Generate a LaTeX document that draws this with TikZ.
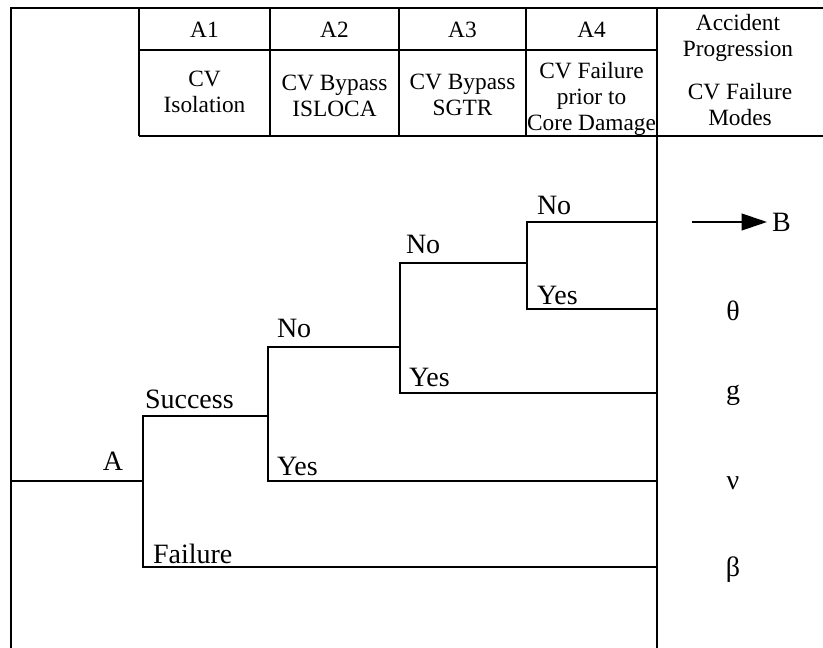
\documentclass[tikz,border=0pt]{standalone}
\usepackage{fontspec}
\setmainfont{Liberation Serif}
\usetikzlibrary{arrows.meta}

\begin{document}
\begin{tikzpicture}[x=0.75pt,y=-0.75pt,line width=1.5pt,
  head/.style={font=\fontsize{17.5}{19.5}\selectfont,align=center,inner sep=0pt},
  branch/.style={font=\fontsize{21}{24}\selectfont,anchor=base west,inner sep=0pt},
  mode/.style={font=\fontsize{21}{24}\selectfont,inner sep=0pt}]
\useasboundingbox (0,0) rectangle (823,648);

% table frame
\draw (11,648) -- (11,8) -- (823,8);
\draw (139,136) -- (823,136);
\draw (139,50) -- (657,50);
\foreach \x in {139,270,399,526} \draw (\x,8) -- (\x,136);
\draw (657,8) -- (657,648);

% headings
\node[head] (h1) at (204.5,30) {A1};
\node[head] (h2) at (334.5,30) {A2};
\node[head] (h3) at (462.5,30) {A3};
\node[head] (h4) at (591.5,30) {A4};
\node[head] (h5) at (738,38) {Accident\\Progression};
\node[head] (t1) at (204.5,92) {CV\\Isolation};
\node[head] (t2) at (334.5,96) {CV Bypass\\ISLOCA};
\node[head] (t3) at (462.5,95) {CV Bypass\\SGTR};
\node[head] (t4) at (591.5,99) {CV Failure\\prior to\\Core Damage};
\node[head] (t5) at (740,105) {CV Failure\\Modes};

% branch points
\coordinate (s0) at (11,481);
\coordinate (a1) at (143,481);
\coordinate (a1s) at (143,416);
\coordinate (a1f) at (143,567);
\coordinate (a2) at (268,416);
\coordinate (a2n) at (268,347);
\coordinate (a2y) at (268,481);
\coordinate (a3) at (400,347);
\coordinate (a3n) at (400,263);
\coordinate (a3y) at (400,393);
\coordinate (a4) at (527,263);
\coordinate (a4n) at (527,222);
\coordinate (a4y) at (527,309);
\coordinate (e1) at (657,222);
\coordinate (e2) at (657,309);
\coordinate (e3) at (657,393);
\coordinate (e4) at (657,481);
\coordinate (e5) at (657,567);

% event tree
\draw (s0) -- (a1);
\draw (e5) -- (a1f) -- (a1s) -- (a2);
\draw (a3) -- (a2n) -- (a2y) -- (e4);
\draw (a4) -- (a3n) -- (a3y) -- (e3);
\draw (e1) -- (a4n) -- (a4y) -- (e2);

% branch labels
\node[branch,anchor=base east] (lA) at (124,470) {A};
\node[branch] (lsucc) at (144,408) {Success};
\node[branch] (lfail) at (152,563) {Failure};
\node[branch] (l2n) at (276,337) {No};
\node[branch] (l2y) at (276,475) {Yes};
\node[branch] (l3n) at (405,254) {No};
\node[branch] (l3y) at (408,386) {Yes};
\node[branch] (l4n) at (536,215) {No};
\node[branch] (l4y) at (536,304) {Yes};

% failure modes
\coordinate (arr) at (692,222);
\node[mode,anchor=west] (mB) at (771,222) {B};
\draw[-{Triangle[length=19pt,width=12.5pt]},shorten >=3pt] (arr) -- (mB.west);
\node[mode] (m2) at (733,311) {θ};
\node[mode] (m3) at (733,395) {g};
\node[mode] (m4) at (733,483) {ν};
\node[mode] (m5) at (733,570) {β};
\end{tikzpicture}
\end{document}
